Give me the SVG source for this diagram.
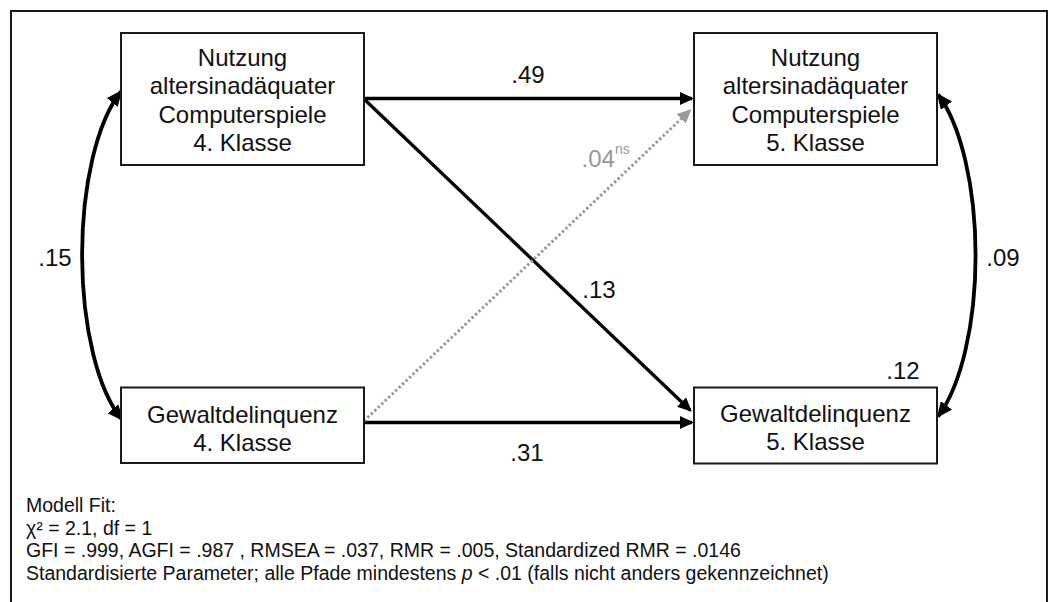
<svg xmlns="http://www.w3.org/2000/svg" width="1051" height="602" viewBox="0 0 1051 602">
<style>
  .frame{fill:#fff;stroke:#1a1a1a;stroke-width:2}
  .box{fill:#fff;stroke:#1a1a1a;stroke-width:2}
  .nt{font-family:"Liberation Sans",Arial,sans-serif;font-size:24px;fill:#111;text-anchor:middle}
  .lbl{font-family:"Liberation Sans",Arial,sans-serif;font-size:24px;fill:#111;text-anchor:middle}
  .ns{font-family:"Liberation Sans",Arial,sans-serif;fill:#999}
  .foot{font-family:"Liberation Sans",Arial,sans-serif;font-size:19.5px;fill:#111}
  .arr{fill:none;stroke:#000;stroke-width:3.3;marker-end:url(#ah)}
  .cov{fill:none;stroke:#000;stroke-width:3.8;marker-start:url(#ahc);marker-end:url(#ahc)}
  .dot{fill:none;stroke:#999;stroke-width:3;stroke-dasharray:2.4 2.4;marker-end:url(#ahg)}
</style>
<defs>
  <marker id="ah" viewBox="0 0 14 13" refX="12" refY="6.5" markerWidth="14" markerHeight="13" orient="auto" markerUnits="userSpaceOnUse">
    <path d="M0,0 L14,6.5 L0,13 z" fill="#000"/>
  </marker>
  <marker id="ahg" viewBox="0 0 14 13" refX="12" refY="6.5" markerWidth="14" markerHeight="13" orient="auto" markerUnits="userSpaceOnUse">
    <path d="M0,0 L14,6.5 L0,13 z" fill="#999"/>
  </marker>
  <marker id="ahc" viewBox="0 0 16 14" refX="14" refY="7" markerWidth="16" markerHeight="14" orient="auto-start-reverse" markerUnits="userSpaceOnUse">
    <path d="M0,0 L16,7 L0,14 z" fill="#000"/>
  </marker>
</defs>

<rect class="frame" x="11" y="11" width="1036" height="640"/>

<g id="connectors">
  <path class="arr" d="M364,98.5 L692,98.5"/>
  <path class="arr" d="M364,99 L690.3,410.3"/>
  <path class="arr" d="M364,422.5 L692,422.5"/>
  <path class="dot" d="M364,421 L690,110.4"/>
  <path class="cov" d="M121,91.5 A67,180 0 0,0 122,419.5"/>
  <path class="cov" d="M938,94.5 A68,180 0 0,1 938,416.5"/>
</g>

<g id="labels">
  <text class="lbl" x="528" y="83">.49</text>
  <text class="lbl" x="527" y="461">.31</text>
  <text class="lbl" x="599" y="298">.13</text>
  <text class="lbl" x="55" y="266">.15</text>
  <text class="lbl" x="1003" y="266">.09</text>
  <text class="lbl" x="903" y="379">.12</text>
  <text class="ns" x="581.5" y="167" font-size="24">.04<tspan font-size="14" dy="-13">ns</tspan></text>
</g>

<g id="node-nutzung4">
  <rect class="box" x="121" y="33" width="243" height="132"/>
  <text class="nt" x="242.5" y="65.5">Nutzung</text>
  <text class="nt" x="242.5" y="94">altersinadäquater</text>
  <text class="nt" x="242.5" y="122.5">Computerspiele</text>
  <text class="nt" x="242.5" y="150.5">4. Klasse</text>
</g>

<g id="node-nutzung5">
  <rect class="box" x="694" y="33" width="243" height="132"/>
  <text class="nt" x="815.5" y="65.5">Nutzung</text>
  <text class="nt" x="815.5" y="94">altersinadäquater</text>
  <text class="nt" x="815.5" y="122.5">Computerspiele</text>
  <text class="nt" x="815.5" y="150.5">5. Klasse</text>
</g>

<g id="node-gewalt4">
  <rect class="box" x="121" y="387.5" width="243" height="75.5"/>
  <text class="nt" x="242.5" y="423">Gewaltdelinquenz</text>
  <text class="nt" x="242.5" y="451">4. Klasse</text>
</g>

<g id="node-gewalt5">
  <rect class="box" x="694" y="387.5" width="243" height="76"/>
  <text class="nt" x="815.5" y="422">Gewaltdelinquenz</text>
  <text class="nt" x="815.5" y="450">5. Klasse</text>
</g>

<g id="fit-note">
  <text class="foot" x="26" y="512">Modell Fit:</text>
  <text class="foot" x="26" y="534.5">χ² = 2.1, df = 1</text>
  <text class="foot" x="26" y="557">GFI = .999, AGFI = .987 , RMSEA = .037, RMR = .005, Standardized RMR = .0146</text>
  <text class="foot" x="26" y="579.5">Standardisierte Parameter; alle Pfade mindestens <tspan font-style="italic">p</tspan> &lt; .01 (falls nicht anders gekennzeichnet)</text>
</g>
</svg>
